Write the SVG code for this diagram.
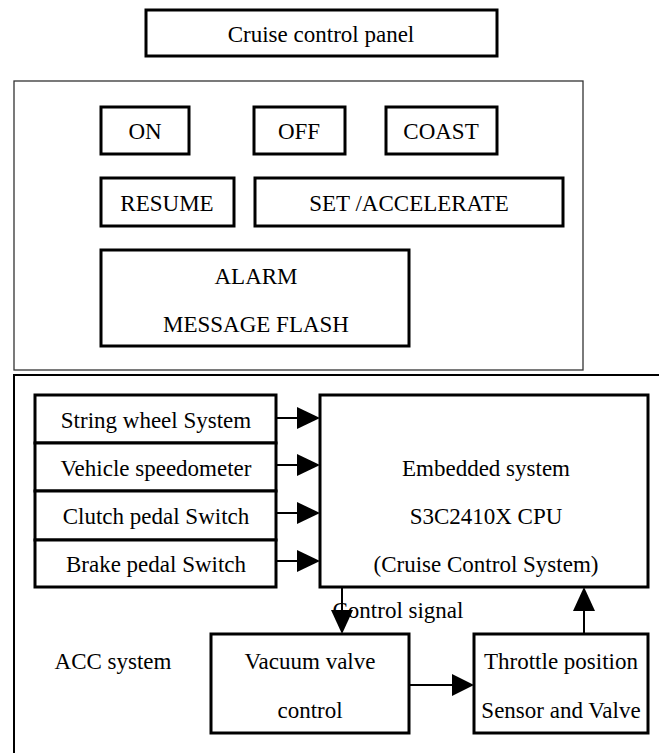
<svg xmlns="http://www.w3.org/2000/svg" width="659" height="753" viewBox="0 0 659 753">
<defs>
<style>
text{font-family:"Liberation Serif","Times New Roman",serif;font-size:23px;fill:#000;text-anchor:middle}
.b{fill:#fff;stroke:#000;stroke-width:3}
.thin{fill:none;stroke:#333;stroke-width:1.3}
.outer{fill:none;stroke:#000;stroke-width:2}
.c{stroke:#000;stroke-width:2;fill:none}
.ah{fill:#000}
</style>
</defs>
<rect width="659" height="753" fill="#fff"/>
<g id="title"><rect class="b" x="146" y="10" width="351" height="46"/><text x="321" y="42">Cruise control panel</text></g>
<g id="panel"><rect class="thin" x="14" y="81" width="569" height="289"/></g>
<g id="on"><rect class="b" x="101" y="107" width="88" height="47"/><text x="145" y="139">ON</text></g>
<g id="off"><rect class="b" x="254" y="107" width="91" height="47"/><text x="299" y="139">OFF</text></g>
<g id="coast"><rect class="b" x="386" y="107" width="111" height="47"/><text x="441" y="139">COAST</text></g>
<g id="resume"><rect class="b" x="101" y="178" width="133" height="48"/><text x="167" y="211">RESUME</text></g>
<g id="set"><rect class="b" x="255" y="178" width="308" height="48"/><text x="409" y="211">SET /ACCELERATE</text></g>
<g id="alarm"><rect class="b" x="101" y="250" width="308" height="96"/><text x="256" y="284">ALARM</text><text x="256" y="332">MESSAGE FLASH</text></g>
<g id="acc"><path class="outer" d="M14,753 V375 H659"/><text x="113" y="669">ACC system</text></g>
<g id="inputs">
<rect class="b" x="35" y="395" width="241" height="48"/><text x="156" y="428">String wheel System</text>
<rect class="b" x="35" y="443" width="241" height="48"/><text x="156" y="476">Vehicle speedometer</text>
<rect class="b" x="35" y="491" width="241" height="49"/><text x="156" y="524">Clutch pedal Switch</text>
<rect class="b" x="35" y="540" width="241" height="47"/><text x="156" y="572">Brake pedal Switch</text>
</g>
<g id="cpu"><rect class="b" x="320" y="395" width="328" height="192"/><text x="486" y="476">Embedded system</text><text x="486" y="524">S3C2410X CPU</text><text x="486" y="572">(Cruise Control System)</text></g>
<g id="label"><text x="398" y="618">Control signal</text></g>
<g id="vacuum"><rect class="b" x="211" y="634" width="198" height="99"/><text x="310" y="669">Vacuum valve</text><text x="310" y="718">control</text></g>
<g id="throttle"><rect class="b" x="474" y="634" width="174" height="99"/><text x="561" y="669">Throttle position</text><text x="561" y="718">Sensor and Valve</text></g>
<g id="connectors">
<path class="c" d="M276,418 H300 M276,465 H300 M276,513 H300 M276,561 H300"/>
<polygon class="ah" points="297,407 320,418 297,429"/>
<polygon class="ah" points="297,454 320,465 297,476"/>
<polygon class="ah" points="297,502 320,513 297,524"/>
<polygon class="ah" points="297,550 320,561 297,572"/>
<path class="c" d="M342,587 V612"/>
<polygon class="ah" points="331,610 342,634 353,610"/>
<path class="c" d="M409,685 H454"/>
<polygon class="ah" points="452,674 474,685 452,696"/>
<path class="c" d="M584,634 V608"/>
<polygon class="ah" points="573,611 584,587 595,611"/>
</g>
</svg>
